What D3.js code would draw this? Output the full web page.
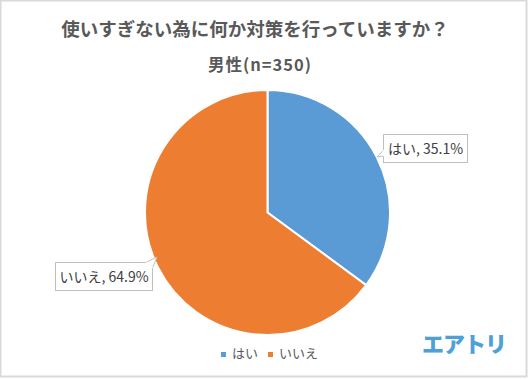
<!DOCTYPE html>
<html><head><meta charset="utf-8">
<script src="https://cdn.jsdelivr.net/npm/d3@7"></script>
<style>
html,body{margin:0;padding:0;background:#fff;}
svg{display:block;}
text{font-family:"Noto Sans CJK JP","Noto Sans",sans-serif;}
</style></head>
<body>
<svg id="c" width="530" height="379"></svg>
<script>
const title = "使いすぎない為に何か対策を行っていますか？";
const subtitle = "男性(n=350)";
const categories = ["はい", "いいえ"];
const values = [35.1, 64.9];
const colors = ["#5B9BD5", "#ED7D31"];
const logoText = "エアトリ";

const svg = d3.select("#c");
const W = 530, H = 379;
svg.append("rect").attr("x",0.5).attr("y",0.5).attr("width",W-4).attr("height",H-3)
  .attr("fill","#fff").attr("stroke","#d9d9d9").attr("stroke-width",2);

svg.append("text").attr("x",255).attr("y",36).attr("text-anchor","middle")
  .attr("font-size",18.5).attr("font-weight","bold").attr("fill","#595959").text(title);
svg.append("text").attr("x",260).attr("y",71).attr("text-anchor","middle")
  .attr("font-size",16.5).attr("font-weight","bold").attr("fill","#595959")
  .attr("letter-spacing",1).text(subtitle);

const cx = 267.5, cy = 212.5, r = 122.5;
const pie = d3.pie().sort(null).value(d=>d)(values);
const arc = d3.arc().innerRadius(0).outerRadius(r);
const g = svg.append("g").attr("transform",`translate(${cx},${cy})`);
g.selectAll("path").data(pie).join("path")
  .attr("d",arc).attr("fill",(d,i)=>colors[i]).attr("stroke","#fff").attr("stroke-width",2);

// data labels with callout boxes
const labels = [
  {i:0, x:383.5, y:134.5, w:84, h:28, ptr:[[383.5,150],[377,157],[383.5,156]]},
  {i:1, x:55.5, y:262.5, w:97, h:28, ptr:[[146,262.5],[157,257],[152.5,268]]}
];
labels.forEach(L=>{
  const lg = svg.append("g");
  lg.append("rect").attr("x",L.x).attr("y",L.y).attr("width",L.w).attr("height",L.h)
    .attr("fill","#fff").attr("stroke","#bfbfbf").attr("stroke-width",1);
  lg.append("path").attr("d","M"+L.ptr.map(p=>p.join(",")).join("L"))
    .attr("fill","#fff").attr("stroke","#bfbfbf").attr("stroke-width",1);
  lg.append("path").attr("d",`M${L.ptr[0][0]},${L.ptr[0][1]}L${L.ptr[2][0]},${L.ptr[2][1]}`)
    .attr("stroke","#fff").attr("stroke-width",1.5);
  lg.append("text").attr("x",L.x+L.w/2).attr("y",L.y+L.h/2+5).attr("text-anchor","middle")
    .attr("font-size",14).attr("fill","#404040")
    .text(categories[L.i]+", "+d3.format(".1f")(values[L.i])+"%");
});

// legend
const legX = [221, 268];
categories.forEach((c,i)=>{
  svg.append("rect").attr("x",legX[i]).attr("y",352).attr("width",5).attr("height",5).attr("fill",colors[i]);
  svg.append("text").attr("x",legX[i]+11).attr("y",358).attr("font-size",13).attr("fill","#595959").text(c);
});

// logo
svg.append("text").attr("x",464).attr("y",352).attr("text-anchor","middle")
  .attr("font-size",22).attr("font-weight","900").attr("fill","#4ea1d6")
  .attr("letter-spacing",-1).text(logoText);
</script>
</body></html>
